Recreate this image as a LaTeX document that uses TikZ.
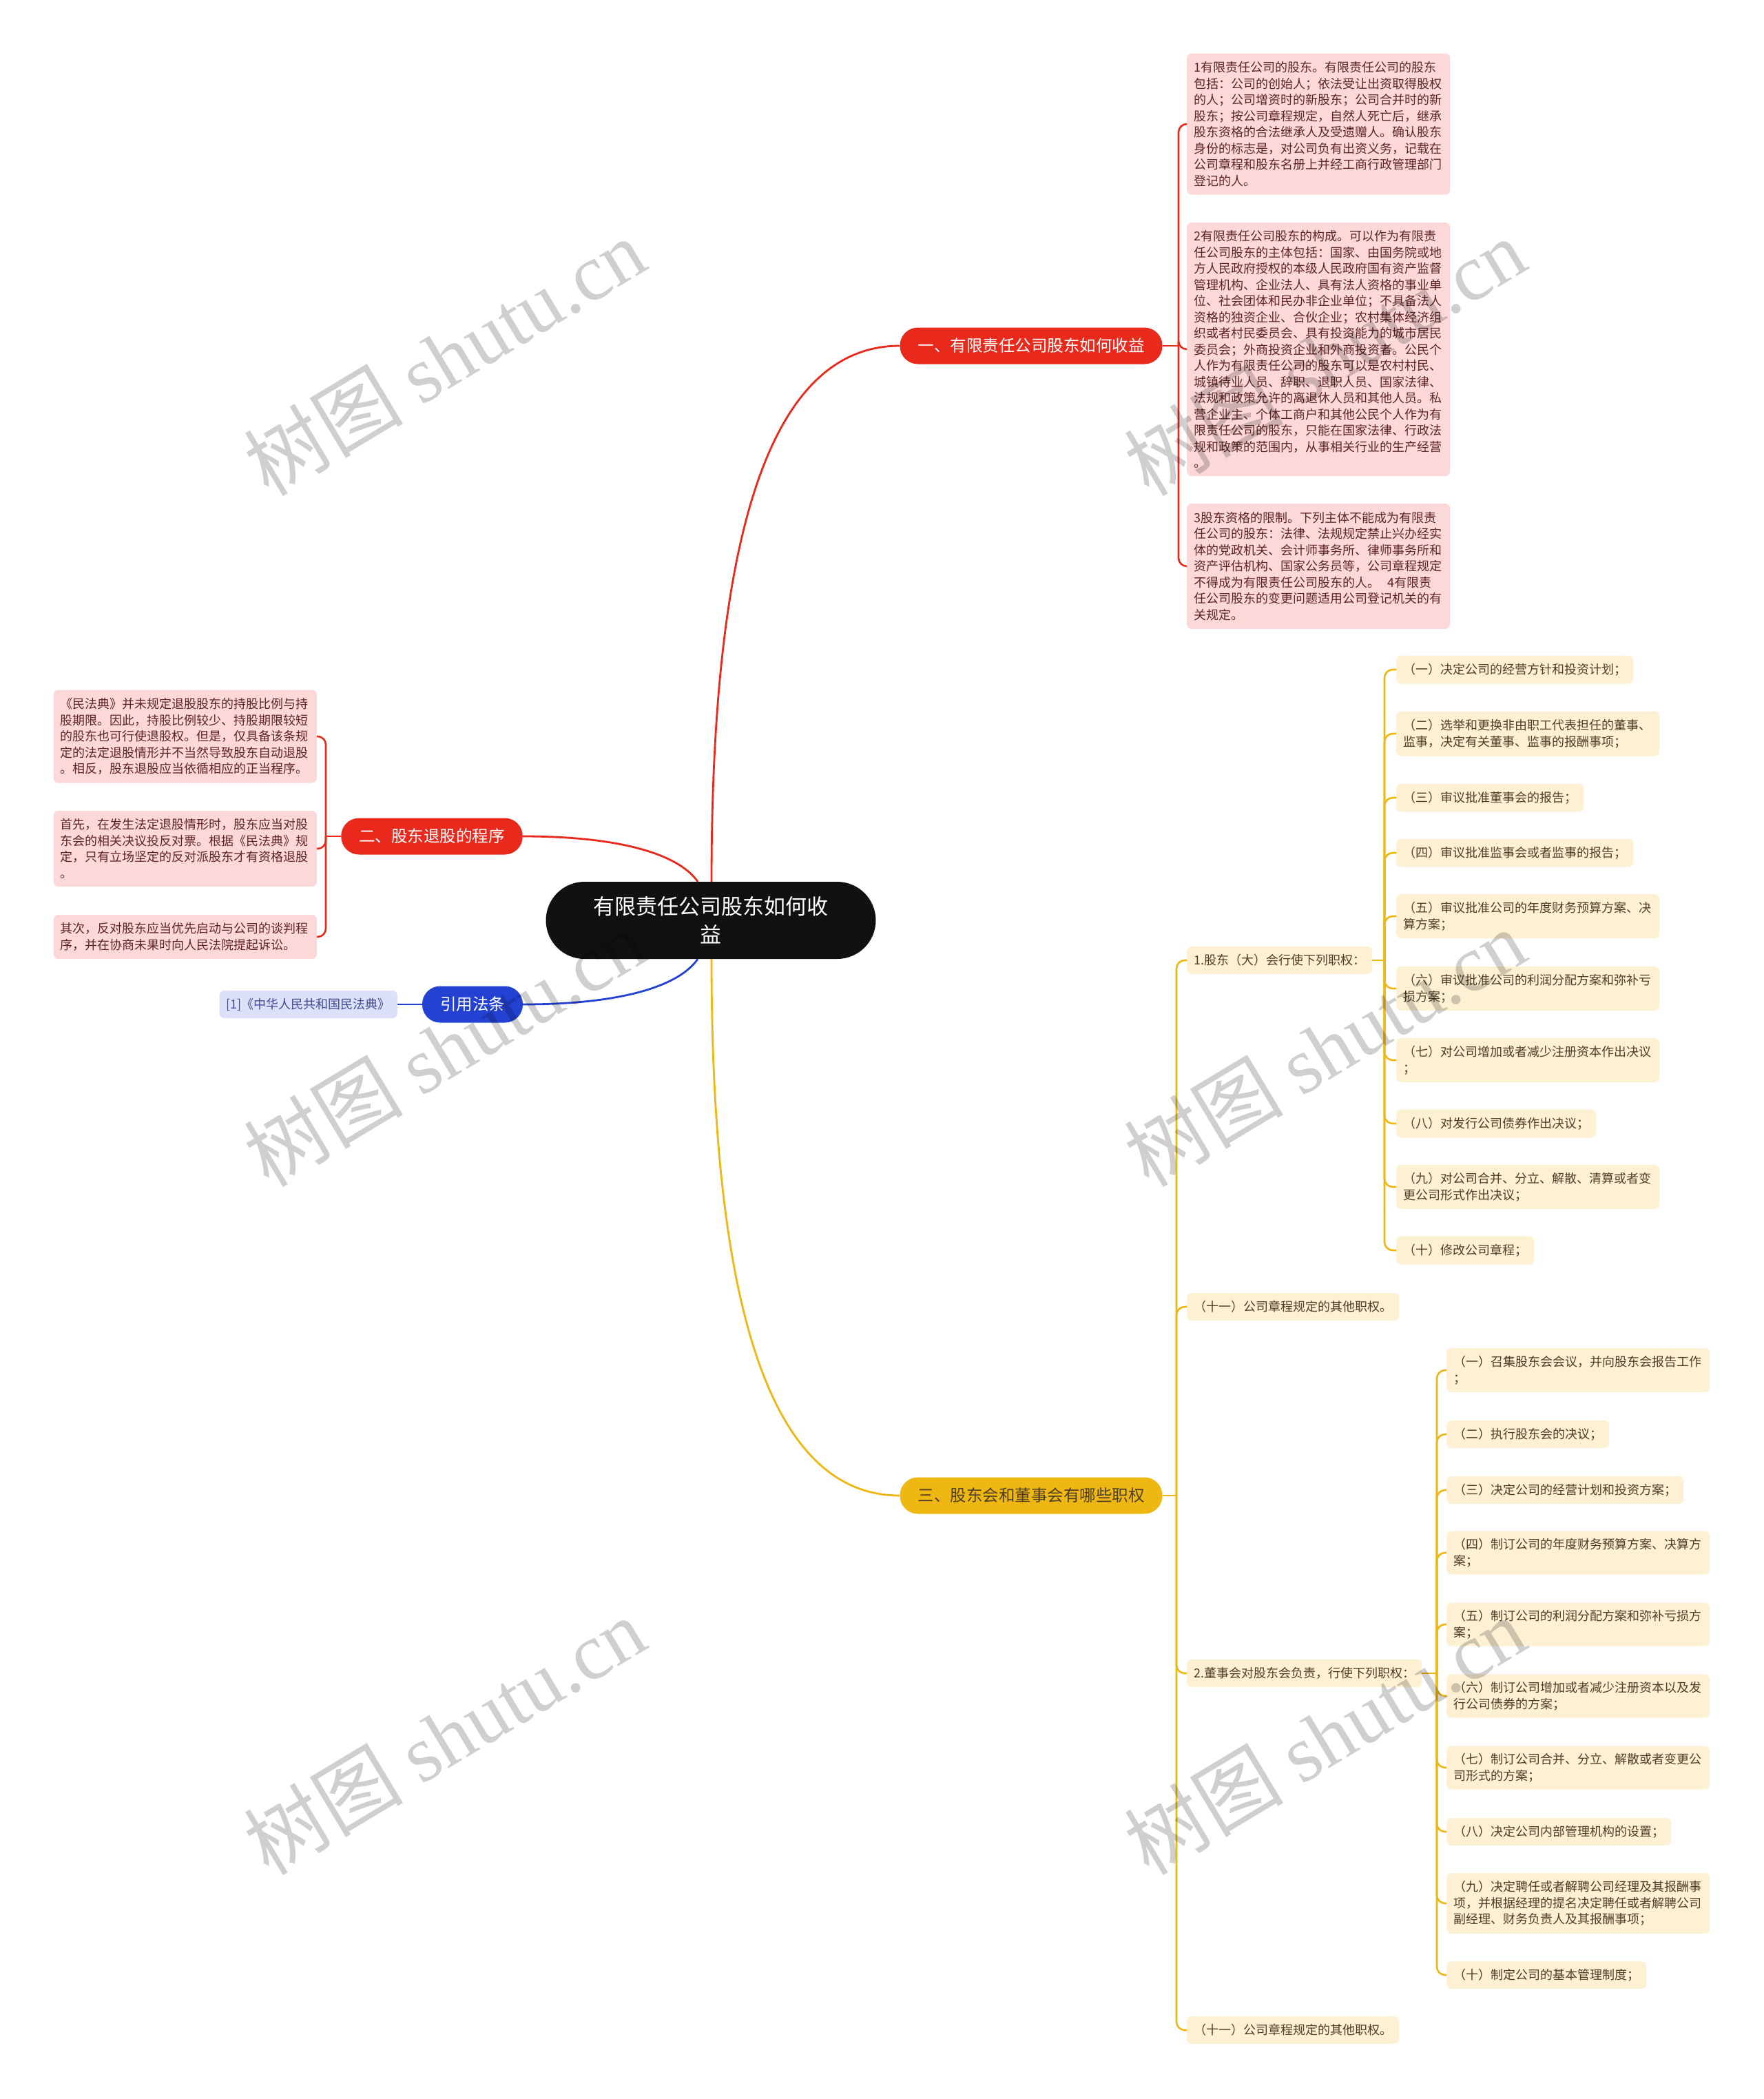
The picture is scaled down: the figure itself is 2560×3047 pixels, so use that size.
\documentclass[tikz,border=0pt]{standalone}
\usepackage{fontspec}
\newfontfamily\cjk{Noto Sans CJK SC}
\newfontfamily\wmlatin{Liberation Serif}
\usetikzlibrary{calc}
\definecolor{redc}{HTML}{E8291C}
\definecolor{pinkfill}{HTML}{FCD9D8}
\definecolor{pinktext}{HTML}{5C2424}
\definecolor{yelc}{HTML}{EFB712}
\definecolor{yelfill}{HTML}{FDF0D3}
\definecolor{yeltext}{HTML}{4D3E26}
\definecolor{bluec}{HTML}{2342D3}
\definecolor{bluefill}{HTML}{DCE0F8}
\definecolor{bluetext}{HTML}{3E4A8E}
\definecolor{rootc}{HTML}{111111}
\begin{document}
\begin{tikzpicture}[x=1pt,y=-1pt,
  pill/.style={rounded corners=26pt, minimum height=53pt, inner xsep=26pt, inner ysep=0pt,
    font=\cjk\fontsize{23.5}{28}\selectfont},
  box/.style={rounded corners=7pt, inner xsep=10pt, inner ysep=2pt,
    font=\cjk\fontsize{18}{23.5}\selectfont, align=left},
  wide/.style={text width=362pt},
  pinkbox/.style={box, fill=pinkfill, text=pinktext},
  yelbox/.style={box, fill=yelfill, text=yeltext},
  redline/.style={draw=redc, line width=2.8pt},
  yelline/.style={draw=yelc, line width=2.8pt},
  blueline/.style={draw=bluec, line width=2.8pt},
  brk/.style={rounded corners=12pt},
  wm/.style={text=black, text opacity=0.19, font=\cjk\fontsize{116}{126}\selectfont, rotate=31}
]
\fill[white] (0,0) rectangle (2560,3047);
\useasboundingbox (0,0) rectangle (2560,3047);

% root
\node[fill=rootc, text=white, rounded corners=56pt, minimum width=479pt, minimum height=112pt,
  inner sep=0pt, align=center, font=\cjk\fontsize{31}{41}\selectfont] (root) at (1032,1336)
  {有限责任公司股东如何收\\益};

% main branches
\node[pill, fill=redc, text=white] (b1) at (1497,502) {一、有限责任公司股东如何收益};
\node[pill, fill=redc, text=white] (b2) at (627,1214) {二、股东退股的程序};
\node[pill, fill=yelc, text=yeltext] (b3) at (1497,2171) {三、股东会和董事会有哪些职权};
\node[pill, fill=bluec, text=white] (b4) at (686,1458) {引用法条};

% branch 1 children
\node[pinkbox, wide, anchor=west, minimum height=205pt] (p1) at (1723,180) {1有限责任公司的股东。有限责任公司的股东\\包括：公司的创始人；依法受让出资取得股权\\的人；公司增资时的新股东；公司合并时的新\\股东；按公司章程规定，自然人死亡后，继承\\股东资格的合法继承人及受遗赠人。确认股东\\身份的标志是，对公司负有出资义务，记载在\\公司章程和股东名册上并经工商行政管理部门\\登记的人。};
\node[pinkbox, wide, anchor=west, minimum height=368pt] (p2) at (1723,507) {2有限责任公司股东的构成。可以作为有限责\\任公司股东的主体包括：国家、由国务院或地\\方人民政府授权的本级人民政府国有资产监督\\管理机构、企业法人、具有法人资格的事业单\\位、社会团体和民办非企业单位；不具备法人\\资格的独资企业、合伙企业；农村集体经济组\\织或者村民委员会、具有投资能力的城市居民\\委员会；外商投资企业和外商投资者。公民个\\人作为有限责任公司的股东可以是农村村民、\\城镇待业人员、辞职、退职人员、国家法律、\\法规和政策允许的离退休人员和其他人员。私\\营企业主、个体工商户和其他公民个人作为有\\限责任公司的股东，只能在国家法律、行政法\\规和政策的范围内，从事相关行业的生产经营\\。};
\node[pinkbox, wide, anchor=west, minimum height=182pt] (p3) at (1723,822) {3股东资格的限制。下列主体不能成为有限责\\任公司的股东：法律、法规规定禁止兴办经实\\体的党政机关、会计师事务所、律师事务所和\\资产评估机构、国家公务员等，公司章程规定\\不得成为有限责任公司股东的人。\hspace{0.6em}4有限责\\任公司股东的变更问题适用公司登记机关的有\\关规定。};

% branch 2 children
\node[pinkbox, wide, anchor=east, minimum height=135pt] (l1) at (460,1069) {《民法典》并未规定退股股东的持股比例与持\\股期限。因此，持股比例较少、持股期限较短\\的股东也可行使退股权。但是，仅具备该条规\\定的法定退股情形并不当然导致股东自动退股\\。相反，股东退股应当依循相应的正当程序。};
\node[pinkbox, wide, anchor=east, minimum height=110pt] (l2) at (460,1232) {首先，在发生法定退股情形时，股东应当对股\\东会的相关决议投反对票。根据《民法典》规\\定，只有立场坚定的反对派股东才有资格退股\\。};
\node[pinkbox, wide, anchor=east, minimum height=64pt] (l3) at (460,1360) {其次，反对股东应当优先启动与公司的谈判程\\序，并在协商未果时向人民法院提起诉讼。};

% citation
\node[box, fill=bluefill, text=bluetext, anchor=east, minimum height=40pt] (cite) at (577,1458) {[1]《中华人民共和国民法典》};

% branch 3 children
\node[yelbox, anchor=west, minimum height=40pt] (s1) at (1723,1394) {1.股东（大）会行使下列职权：};
\node[yelbox, anchor=west, minimum height=40pt] (s11) at (1723,1897) {（十一）公司章程规定的其他职权。};
\node[yelbox, anchor=west, minimum height=40pt] (s2) at (1723,2429) {2.董事会对股东会负责，行使下列职权：};
\node[yelbox, anchor=west, minimum height=40pt] (s22) at (1723,2947) {（十一）公司章程规定的其他职权。};

% sub 1 items
\node[yelbox, anchor=west, minimum height=41pt] (a1) at (2027,972) {（一）决定公司的经营方针和投资计划；};
\node[yelbox, wide, anchor=west, minimum height=65pt] (a2) at (2027,1065) {（二）选举和更换非由职工代表担任的董事、\\监事，决定有关董事、监事的报酬事项；};
\node[yelbox, anchor=west, minimum height=41pt] (a3) at (2027,1158) {（三）审议批准董事会的报告；};
\node[yelbox, anchor=west, minimum height=41pt] (a4) at (2027,1238) {（四）审议批准监事会或者监事的报告；};
\node[yelbox, wide, anchor=west, minimum height=64pt] (a5) at (2027,1330) {（五）审议批准公司的年度财务预算方案、决\\算方案；};
\node[yelbox, wide, anchor=west, minimum height=64pt] (a6) at (2027,1435) {（六）审议批准公司的利润分配方案和弥补亏\\损方案；};
\node[yelbox, wide, anchor=west, minimum height=64pt] (a7) at (2027,1539) {（七）对公司增加或者减少注册资本作出决议\\；};
\node[yelbox, anchor=west, minimum height=41pt] (a8) at (2027,1631) {（八）对发行公司债券作出决议；};
\node[yelbox, wide, anchor=west, minimum height=64pt] (a9) at (2027,1723) {（九）对公司合并、分立、解散、清算或者变\\更公司形式作出决议；};
\node[yelbox, anchor=west, minimum height=41pt] (a10) at (2027,1815) {（十）修改公司章程；};

% sub 2 items
\node[yelbox, wide, anchor=west, minimum height=64pt] (c1) at (2100,1989) {（一）召集股东会会议，并向股东会报告工作\\；};
\node[yelbox, anchor=west, minimum height=40pt] (c2) at (2100,2082) {（二）执行股东会的决议；};
\node[yelbox, anchor=west, minimum height=40pt] (c3) at (2100,2163) {（三）决定公司的经营计划和投资方案；};
\node[yelbox, wide, anchor=west, minimum height=63pt] (c4) at (2100,2254) {（四）制订公司的年度财务预算方案、决算方\\案；};
\node[yelbox, wide, anchor=west, minimum height=63pt] (c5) at (2100,2358) {（五）制订公司的利润分配方案和弥补亏损方\\案；};
\node[yelbox, wide, anchor=west, minimum height=63pt] (c6) at (2100,2462) {（六）制订公司增加或者减少注册资本以及发\\行公司债券的方案；};
\node[yelbox, wide, anchor=west, minimum height=63pt] (c7) at (2100,2566) {（七）制订公司合并、分立、解散或者变更公\\司形式的方案；};
\node[yelbox, anchor=west, minimum height=40pt] (c8) at (2100,2659) {（八）决定公司内部管理机构的设置；};
\node[yelbox, wide, anchor=west, minimum height=88pt] (c9) at (2100,2763) {（九）决定聘任或者解聘公司经理及其报酬事\\项，并根据经理的提名决定聘任或者解聘公司\\副经理、财务负责人及其报酬事项；};
\node[yelbox, anchor=west, minimum height=40pt] (c10) at (2100,2867) {（十）制定公司的基本管理制度；};

% main connectors
\draw[redline] ($(root.north)+(1,0)$) .. controls +(0,-519) and +(-183,0) .. (b1.west);
\draw[yelline] ($(root.south)+(1,0)$) .. controls +(0,519) and +(-183,0) .. (b3.west);
\draw[redline] ($(root.north)+(-19,0)$) .. controls +(-28,-40) and +(141,0) .. (b2.east);
\draw[blueline] ($(root.south)+(-19,0)$) .. controls +(-28,40) and +(141,0) .. (b4.east);
\draw[blueline] (cite.east) -- (b4.west);

% brackets
\coordinate (j1) at (1711,502);
\coordinate (j2) at (473,1214);
\coordinate (j3) at (1708,2171);
\coordinate (j31) at (2010,1394);
\coordinate (j32) at (2086,2429);

\draw[redc, line width=2.6pt] (b1.east) -- (j1);
\foreach \n in {p1,p2,p3} \draw[redc, line width=2.6pt, brk] (j1) |- (\n.west);
\draw[redc, line width=2.6pt] (b2.west) -- (j2);
\foreach \n in {l1,l2,l3} \draw[redc, line width=2.6pt, brk] (j2) |- (\n.east);

\draw[yelc, line width=2.6pt] (b3.east) -- (j3);
\foreach \n in {s1,s11,s2,s22} \draw[yelc, line width=2.6pt, brk] (j3) |- (\n.west);
\draw[yelc, line width=2.6pt] (s1.east) -- (j31);
\foreach \n in {a1,a2,a3,a4,a5,a6,a7,a8,a9,a10} \draw[yelc, line width=2.6pt, brk] (j31) |- (\n.west);
\draw[yelc, line width=2.6pt] (s2.east) -- (j32);
\foreach \n in {c1,c2,c3,c4,c5,c6,c7,c8,c9,c10} \draw[yelc, line width=2.6pt, brk] (j32) |- (\n.west);

% watermarks
\node[wm] (w1) at (645,518) {树图 {\wmlatin shutu.cn}};
\node[wm] (w2) at (1923,518) {树图 {\wmlatin shutu.cn}};
\node[wm] (w3) at (645,1521) {树图 {\wmlatin shutu.cn}};
\node[wm] (w4) at (1923,1521) {树图 {\wmlatin shutu.cn}};
\node[wm] (w5) at (645,2520) {树图 {\wmlatin shutu.cn}};
\node[wm] (w6) at (1923,2520) {树图 {\wmlatin shutu.cn}};
\end{tikzpicture}
\end{document}
